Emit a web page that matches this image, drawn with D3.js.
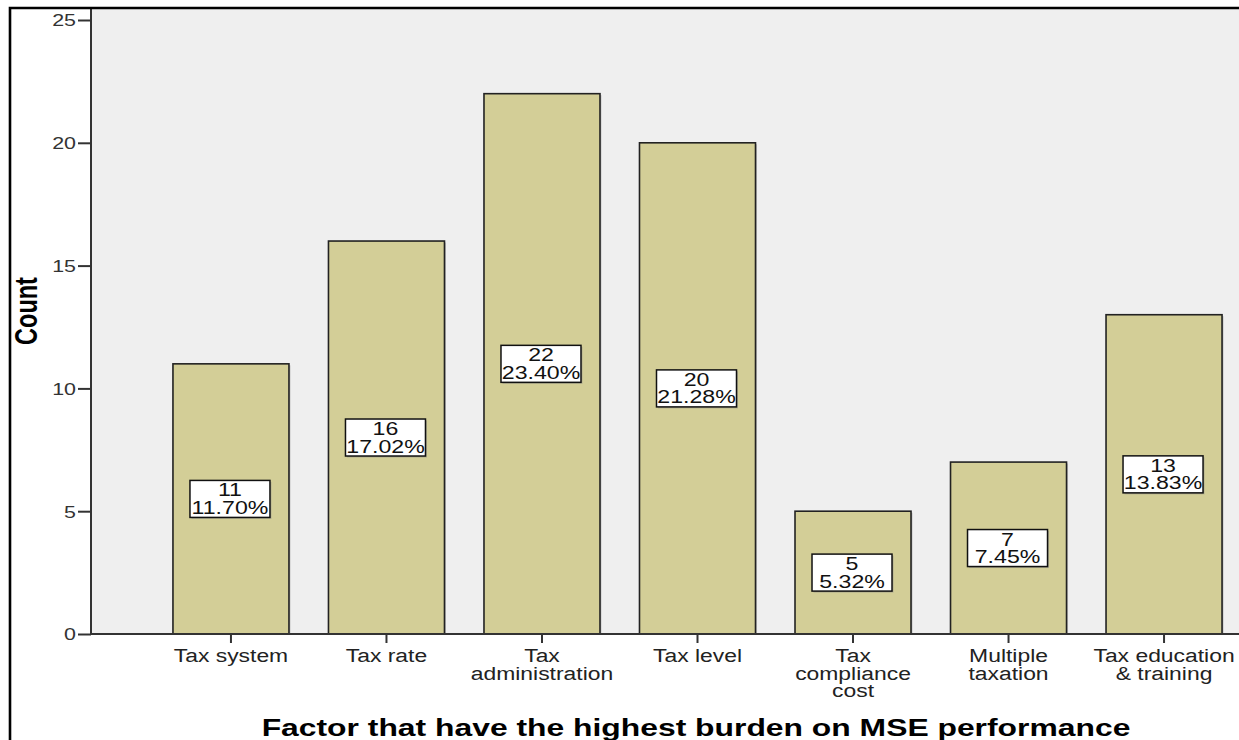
<!DOCTYPE html>
<html>
<head>
<meta charset="utf-8">
<script src="https://cdn.jsdelivr.net/npm/d3@7"></script>
<style>
  html, body { margin: 0; padding: 0; background: #ffffff; }
  svg { display: block; }
  text { font-family: Arial, "Liberation Sans", Helvetica, sans-serif; }
</style>
</head>
<body>
<svg id="chart" width="1239" height="740"></svg>
<script>
// Survey results: factor with the highest burden on MSE performance
const categories = ["Tax system", "Tax rate", "Tax administration", "Tax level",
                    "Tax compliance cost", "Multiple taxation", "Tax education & training"];
const tickLines = [["Tax system"], ["Tax rate"], ["Tax", "administration"], ["Tax level"],
                   ["Tax", "compliance", "cost"], ["Multiple", "taxation"], ["Tax education", "& training"]];
const counts = [11, 16, 22, 20, 5, 7, 13];
const percents = [11.70, 17.02, 23.40, 21.28, 5.32, 7.45, 13.83];
const yTicks = [0, 5, 10, 15, 20, 25];

const W = 1239, H = 740;
const SX = 1.3; // horizontal stretch applied to all lettering
const svg = d3.select("#chart");

const plot = { left: 91, top: 9, bottom: 634, right: 1304 };

const x = d3.scaleBand()
  .domain(categories)
  .range([plot.left, plot.right])
  .paddingInner(0.254)
  .paddingOuter(0.527);

const y = d3.scaleLinear().domain([0, 25]).range([plot.bottom, 20]);

// plot background
svg.append("rect")
  .attr("x", plot.left).attr("y", plot.top)
  .attr("width", W - plot.left).attr("height", plot.bottom - plot.top)
  .attr("fill", "#efefef");

// stretched text helper
function stext(g, tx, ty, str, opts = {}) {
  return g.append("text")
    .attr("transform", `translate(${tx},${ty}) scale(${SX},1)` + (opts.rotate ? ` rotate(${opts.rotate})` : ""))
    .attr("text-anchor", opts.anchor || "middle")
    .attr("font-size", opts.size || 16)
    .attr("font-weight", opts.weight || "normal")
    .attr("fill", opts.fill || "#222")
    .attr("dy", opts.dy || null)
    .text(str);
}

// bars
const bars = svg.append("g");
categories.forEach((c, i) => {
  const bx = x(c), bw = x.bandwidth(), by = y(counts[i]);
  bars.append("rect")
    .attr("x", bx + 1.5).attr("y", by + 1.5)
    .attr("width", bw).attr("height", y(0) - by - 1.5)
    .attr("fill", "#9a9a9a").attr("opacity", 0.5);
  bars.append("rect")
    .attr("x", bx).attr("y", by)
    .attr("width", bw).attr("height", y(0) - by)
    .attr("fill", "#d3ce97")
    .attr("stroke", "#222").attr("stroke-width", 1.6);
});

// y axis
const yAxis = svg.append("g")
  .attr("transform", `translate(${plot.left},0)`)
  .call(d3.axisLeft(y).tickValues(yTicks).tickSize(13).tickSizeOuter(0).tickFormat(d3.format("d")));
yAxis.select(".domain").attr("stroke", "#333").attr("stroke-width", 2)
  .attr("d", `M0,${plot.top}V${plot.bottom}`);
yAxis.selectAll(".tick line").attr("stroke", "#333").attr("stroke-width", 2);
yAxis.selectAll(".tick text").remove();
yAxis.selectAll(".tick").each(function(d) {
  stext(d3.select(this), -15, 0, d3.format("d")(d), { anchor: "end", size: 16.5, dy: "0.36em", fill: "#333" });
});

// x axis
const xAxis = svg.append("g")
  .attr("transform", `translate(0,${plot.bottom})`)
  .call(d3.axisBottom(x).tickSize(9).tickSizeOuter(0));
xAxis.select(".domain").attr("stroke", "#333").attr("stroke-width", 2)
  .attr("d", `M${plot.left},0H${W}`);
xAxis.selectAll(".tick line").attr("stroke", "#333").attr("stroke-width", 2);
xAxis.selectAll(".tick text").remove();
xAxis.selectAll(".tick").each(function(d, i) {
  const g = d3.select(this);
  tickLines[i].forEach((line, k) => {
    stext(g, 0, 28 + k * 17.5, line, { size: 17.6, fill: "#222" });
  });
});

// value labels: count and percent in a white box at mid-bar
const labels = svg.append("g");
categories.forEach((c, i) => {
  const cx = x(c) + x.bandwidth() / 2 - 1;
  const cy = y(counts[i] / 2);
  labels.append("rect")
    .attr("x", cx - 40 + 1.5).attr("y", cy - 18.5 + 1.5)
    .attr("width", 80).attr("height", 37)
    .attr("fill", "#888").attr("opacity", 0.45);
  labels.append("rect")
    .attr("x", cx - 40).attr("y", cy - 18.5)
    .attr("width", 80).attr("height", 37)
    .attr("fill", "#ffffff")
    .attr("stroke", "#111").attr("stroke-width", 1.5);
  stext(labels, cx, cy - 2.5, String(counts[i]), { size: 17.8, fill: "#111" });
  stext(labels, cx, cy + 15, percents[i].toFixed(2) + "%", { size: 17.8, fill: "#111" });
});

// axis titles
stext(svg, 37, 311, "Count", { size: 23.5, weight: "bold", rotate: -90, fill: "#000" });
stext(svg, 696, 736, "Factor that have the highest burden on MSE performance",
      { size: 24.5, weight: "bold", fill: "#000" });

// outer frame
svg.append("path")
  .attr("d", `M10,${H}V8H${W}`)
  .attr("fill", "none").attr("stroke", "#000").attr("stroke-width", 2.6);
</script>
</body>
</html>
